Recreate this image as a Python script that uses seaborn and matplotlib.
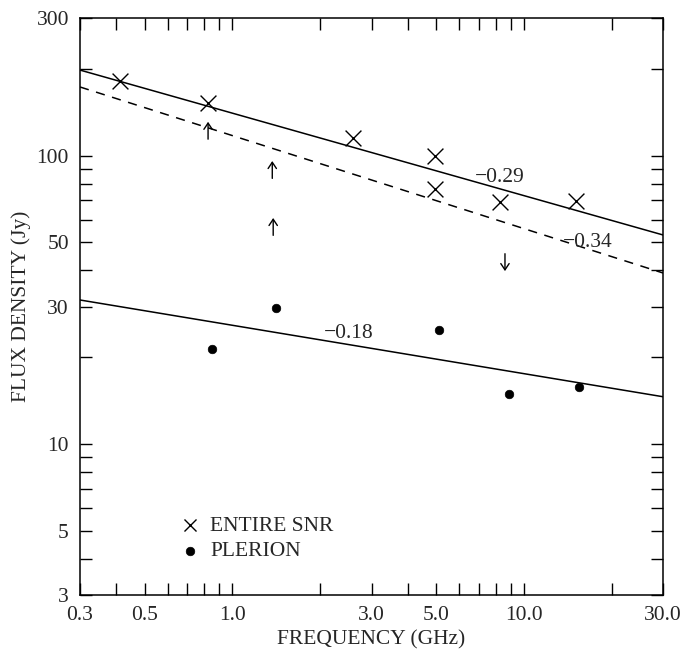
import pandas as pd
import seaborn as sns
import matplotlib
matplotlib.use('Agg')
import matplotlib.pyplot as plt
from matplotlib.ticker import FixedLocator, FixedFormatter, LogLocator, NullFormatter

sns.set_style('ticks')
plt.rcParams['font.family'] = ['Liberation Serif', 'DejaVu Serif']

# Entire SNR flux densities (GHz, Jy)
snr_freq = [0.41, 0.825, 2.59, 4.95, 4.95, 8.28, 15.1]
snr_flux = [181, 152, 115, 99.7, 76.6, 69, 69.6]

# Plerion flux densities
pler_freq = [0.851, 1.41, 5.11, 8.89, 15.4]
pler_flux = [21.4, 29.6, 24.9, 14.9, 15.8]

# limits: arrow tip position and direction
lim_freq = [0.825, 1.37, 1.38, 8.61]
lim_tip = [131, 95.8, 60.8, 39.8]
lim_dir = ['up', 'up', 'up', 'down']

# fitted power laws, values at the frame edges
fit_freq = [0.3, 30.0]
fit_snr = [198, 53.1]
fit_snr_hi = [173, 39.2]
fit_pler = [31.6, 14.6]

# slope labels
slope_text = ['\u22120.29', '\u22120.34', '\u22120.18']
slope_freq = [8.28, 16.5, 2.51]
slope_flux = [83.7, 50.1, 24.1]

x_ticks = [0.3, 0.5, 1.0, 3.0, 5.0, 10.0, 30.0]
x_labels = ['0.3', '0.5', '1.0', '3.0', '5.0', '10.0', '30.0']
y_ticks = [3, 5, 10, 30, 50, 100, 300]
y_labels = ['3', '5', '10', '30', '50', '100', '300']

snr = pd.DataFrame({'freq': snr_freq, 'flux': snr_flux})
pler = pd.DataFrame({'freq': pler_freq, 'flux': pler_flux})
fits = pd.DataFrame({'freq': fit_freq, 'a': fit_snr, 'b': fit_snr_hi, 'c': fit_pler})

fig = plt.figure(figsize=(6.82, 6.58), dpi=100)
ax = fig.add_axes([80 / 682, 1 - 595 / 658, 583 / 682, 577 / 658])
ax.set_xscale('log')
ax.set_yscale('log')

sns.lineplot(data=fits, x='freq', y='a', color='black', lw=1.1, ax=ax)
sns.lineplot(data=fits, x='freq', y='b', color='black', lw=1.1, ax=ax,
             linestyle=(0, (6, 5)))
sns.lineplot(data=fits, x='freq', y='c', color='black', lw=1.1, ax=ax)

sns.scatterplot(data=snr, x='freq', y='flux', marker='x', s=130, color='black',
                linewidth=1.0, ax=ax, label='ENTIRE SNR', zorder=5)
sns.scatterplot(data=pler, x='freq', y='flux', marker='o', s=38, color='black',
                edgecolor='black', ax=ax, label='PLERION', zorder=5)

for f, tip, d in zip(lim_freq, lim_tip, lim_dir):
    off = -12.5 if d == 'up' else 12.5
    ax.annotate('', xy=(f, tip), xytext=(0, off), textcoords='offset points',
                arrowprops=dict(arrowstyle='->,head_length=0.45,head_width=0.3',
                                lw=1.0, color='black', shrinkA=0, shrinkB=0))

for t, f, v in zip(slope_text, slope_freq, slope_flux):
    ax.text(f, v, t, fontsize=15.5, ha='center', va='center')

ax.set_xlim(0.3, 30)
ax.set_ylim(3, 300)

ax.xaxis.set_major_locator(FixedLocator(x_ticks))
ax.xaxis.set_major_formatter(FixedFormatter(x_labels))
ax.xaxis.set_minor_locator(LogLocator(base=10, subs=range(1, 10)))
ax.xaxis.set_minor_formatter(NullFormatter())
ax.yaxis.set_major_locator(FixedLocator(y_ticks))
ax.yaxis.set_major_formatter(FixedFormatter(y_labels))
ax.yaxis.set_minor_locator(LogLocator(base=10, subs=range(1, 10)))
ax.yaxis.set_minor_formatter(NullFormatter())

ax.tick_params(which='both', direction='in', length=8.6, width=1.0,
               top=True, right=True, labelsize=15.5, pad=8, color='black')
for sp in ax.spines.values():
    sp.set_linewidth(1.1)
    sp.set_color('black')

ax.set_xlabel('FREQUENCY (GHz)', fontsize=15.5, labelpad=4)
ax.set_ylabel('FLUX DENSITY (Jy)', fontsize=15.5, labelpad=4)

leg = ax.legend(loc='upper left', bbox_to_anchor=(0.175, 0.137), frameon=False,
                fontsize=15.5, handlelength=0.7, handletextpad=0.6,
                labelspacing=0.25, borderpad=0, borderaxespad=0)
leg.legend_handles[0].set_sizes([75])

fig.savefig('out.png', dpi=100)
